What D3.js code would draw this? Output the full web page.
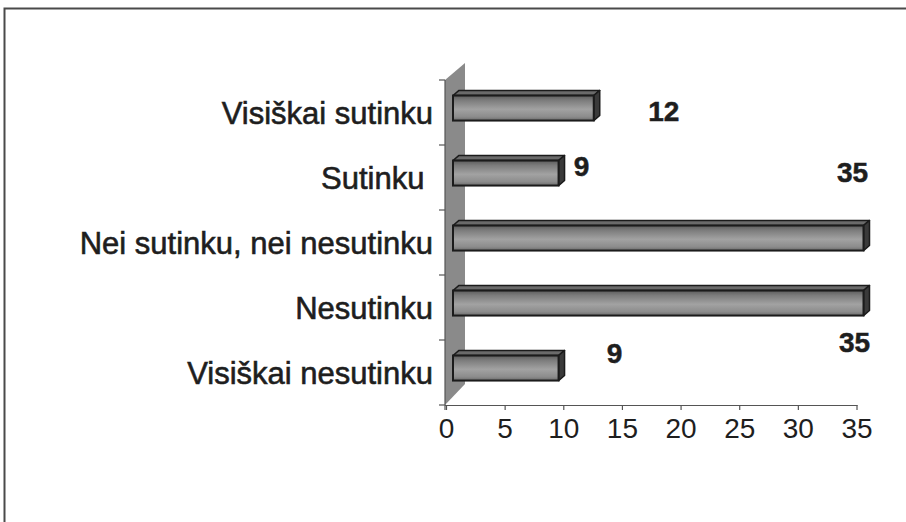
<!DOCTYPE html>
<html>
<head>
<meta charset="utf-8">
<script src="https://cdn.jsdelivr.net/npm/d3@7"></script>
<style>
  html, body { margin: 0; padding: 0; background: #fff; }
  #vis { width: 906px; height: 522px; }
  text { font-family: "Liberation Sans", Arial, sans-serif; fill: #1e1e1e; }
</style>
</head>
<body>
<div id="vis"></div>
<script>
// answers, top to bottom
const categories = ['Visiškai sutinku', 'Sutinku ', 'Nei sutinku, nei nesutinku', 'Nesutinku', 'Visiškai nesutinku'];
const values = [12, 9, 35, 35, 9];
const xTicks = [0, 5, 10, 15, 20, 25, 30, 35];

// the value labels sit oddly in the original, nudged away from the bar ends (baseline offsets)
const labelNudge = [[77, 8], [30, -2], [-4, -61], [-2, 44], [63, -10]];

const width = 906, height = 522;
const depth = { dx: 20, dy: -17 };      // 3d depth vector of the back wall
const front = 0.35, back = 0.65;        // bar position inside the depth

const $svg = d3.select('#vis').append('svg')
  .attr('width', width)
  .attr('height', height);

const yTop = 80, yBottom = 405;
const x = d3.scaleLinear().domain([0, 35]).range([446, 856.5]);
const y = d3.scaleBand().domain(categories).range([yTop, yBottom])
  .paddingInner(0.615)
  .paddingOuter(0.3075);

// frame
$svg.append('path')
  .attr('d', `M4.5,${height} V8.5 H${width}`)
  .attr('fill', 'none')
  .attr('stroke', '#4a4a4a')
  .attr('stroke-width', 2);

// gradient for the bar fronts
const grad = $svg.append('defs').append('linearGradient')
  .attr('id', 'barFront')
  .attr('x1', 0).attr('y1', 0).attr('x2', 0).attr('y2', 1);
[[0, '#5c5c5c'], [0.2, '#7d7d7d'], [0.55, '#a2a2a2'], [0.85, '#8c8c8c'], [1, '#6a6a6a']]
  .forEach(([o, c]) => grad.append('stop').attr('offset', o).attr('stop-color', c));

// back wall
const x0 = x(0) - 1;
$svg.append('polygon')
  .attr('points', [
    [x0, yTop], [x0 + depth.dx, yTop + depth.dy],
    [x0 + depth.dx, yBottom + depth.dy - 4], [x0, yBottom]
  ].map(p => p.join(',')).join(' '))
  .attr('fill', '#8a8a8a');

// y axis line + ticks
$svg.append('line')
  .attr('x1', x0).attr('x2', x0)
  .attr('y1', yTop).attr('y2', yBottom + 5)
  .attr('stroke', '#555').attr('stroke-width', 1.2);

const yEdges = categories.map(c => y(c) - y.step() * y.paddingInner() / 2).concat([yBottom]);
$svg.append('g').selectAll('line')
  .data(yEdges)
  .join('line')
  .attr('x1', x0 - 6).attr('x2', x0)
  .attr('y1', d => d).attr('y2', d => d)
  .attr('stroke', '#555').attr('stroke-width', 1.2);

// x axis
const xAxis = d3.axisBottom(x)
  .tickValues(xTicks)
  .tickSize(5)
  .tickPadding(8)
  .tickFormat(d3.format('d'));

$svg.append('g')
  .attr('class', 'axis x')
  .attr('transform', `translate(0, ${yBottom})`)
  .call(xAxis)
  .call(g => g.select('.domain').attr('stroke', '#555').attr('stroke-width', 1.2)
    .attr('d', `M${x0},0.5H${x(35) + 1}`))
  .call(g => g.selectAll('.tick line').attr('stroke', '#555').attr('stroke-width', 1.2))
  .call(g => g.selectAll('.tick text')
    .attr('fill', '#2a2a2a')
    .style('font-family', '"Liberation Sans Narrow", "Liberation Sans", Arial, sans-serif')
    .style('font-size', '28px'));

// bars (3d boxes)
const fx = depth.dx * front, fy = depth.dy * front + 1.5;
const bx = depth.dx * back, by = depth.dy * back + 1.5;
const bars = categories.map((c, i) => ({ cat: c, value: values[i], i }));

const $bars = $svg.append('g').attr('class', 'bars')
  .selectAll('g')
  .data(bars)
  .join('g');

const stroke = '#1b1b1b';

$bars.append('polygon')   // top face
  .attr('points', d => {
    const l = x(0) + fx, r = x(d.value) + fx, t = y(d.cat) + fy;
    return [[l, t], [l + bx - fx, t + by - fy], [r + bx - fx, t + by - fy], [r, t]]
      .map(p => p.join(',')).join(' ');
  })
  .attr('fill', '#6a6a6a')
  .attr('stroke', stroke).attr('stroke-width', 1.5).attr('stroke-linejoin', 'round');

$bars.append('polygon')   // side face
  .attr('points', d => {
    const r = x(d.value) + fx, t = y(d.cat) + fy, b = t + y.bandwidth();
    return [[r, t], [r + bx - fx, t + by - fy], [r + bx - fx, b + by - fy], [r, b]]
      .map(p => p.join(',')).join(' ');
  })
  .attr('fill', '#3a3a3a')
  .attr('stroke', stroke).attr('stroke-width', 1.5).attr('stroke-linejoin', 'round');

$bars.append('rect')      // front face
  .attr('x', x(0) + fx)
  .attr('y', d => y(d.cat) + fy)
  .attr('width', d => x(d.value) - x(0))
  .attr('height', y.bandwidth())
  .attr('fill', 'url(#barFront)')
  .attr('stroke', stroke).attr('stroke-width', 2);

// value labels
$svg.append('g').selectAll('text')
  .data(bars)
  .join('text')
  .attr('x', d => x(d.value) + labelNudge[d.i][0])
  .attr('y', d => y(d.cat) + y.bandwidth() / 2 + labelNudge[d.i][1])
  .attr('text-anchor', 'middle')
  .attr('stroke', '#1e1e1e')
  .attr('stroke-width', 0.5)
  .style('font-size', '28px')
  .style('font-weight', 'bold')
  .text(d => d.value);

// category labels
$svg.append('g').selectAll('text')
  .data(categories)
  .join('text')
  .attr('x', x0 - 12)
  .attr('y', d => y(d) + y.bandwidth() / 2)
  .attr('dy', '0.36em')
  .attr('text-anchor', 'end')
  .attr('stroke', '#1e1e1e')
  .attr('stroke-width', 0.6)
  .style('font-size', '31px')
  .style('white-space', 'pre')
  .text(d => d);
</script>
</body>
</html>
